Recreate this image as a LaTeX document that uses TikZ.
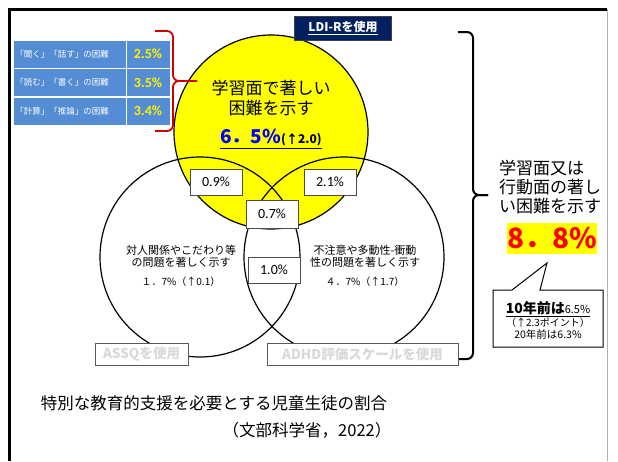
\documentclass[tikz,border=0pt]{standalone}
\usepackage{fontspec}
\setmainfont{Noto Sans CJK JP}
\newfontfamily\latinf{Carlito}
\definecolor{tblue}{RGB}{84,141,212}
\definecolor{navy}{RGB}{0,32,96}
\definecolor{ldyel}{RGB}{255,255,0}
\newcommand{\fs}[1]{\fontsize{#1}{#1}\selectfont}
\begin{document}
\begin{tikzpicture}[x=1pt,y=-1pt,
  pbox/.style={draw=gray!60!black,fill=white,minimum width=52,minimum height=26,inner sep=0,font=\latinf\fs{14}},
  tcell/.style={fill=tblue,draw=white,line width=1,minimum height=28,inner sep=0},
  usebox/.style={draw=gray!70!black,fill=white,minimum height=22,inner sep=0,text=gray!30,font=\bfseries\fs{13.5}}]
\useasboundingbox (0,0) rectangle (618,461);
% frame
\draw[line width=3] (9,461) -- (9,9) -- (607,9);
\draw[gray!60,line width=1] (607,9) -- (607,461);
% three circles
\draw[fill=ldyel,line width=1.2] (271,132) circle[radius=97];
\draw[line width=1.2] (200,257) circle[radius=100];
\draw[line width=1.2] (344,257) circle[radius=100];
% table of LD
\node[tcell,minimum width=113,text width=108,align=left,text=white,font=\fs{8.5}] (t1) at (69.5,54) {「聞く」「話す」の困難};
\node[tcell,minimum width=113,text width=108,align=left,text=white,font=\fs{8.5}] (t2) at (69.5,82.5) {「読む」「書く」の困難};
\node[tcell,minimum width=113,text width=108,align=left,text=white,font=\fs{8.5}] (t3) at (69.5,111) {「計算」「推論」の困難};
\node[tcell,minimum width=44,text=yellow,font=\latinf\bfseries\fs{14}] (v1) at (148,54) {2.5\%};
\node[tcell,minimum width=44,text=yellow,font=\latinf\bfseries\fs{14}] (v2) at (148,82.5) {3.5\%};
\node[tcell,minimum width=44,text=yellow,font=\latinf\bfseries\fs{14}] (v3) at (148,111) {3.4\%};
% red brace
\draw[red!80!black,line width=1.8,rounded corners=6] (155,31) -| (173,81) -- (197,81);
\draw[red!80!black,line width=1.8,rounded corners=6] (197,81) -- (173,81) |- (155,131);
% LDI-R label
\node[fill=navy,draw=gray!50!black,minimum width=97,minimum height=24,inner sep=0,text=white,font=\bfseries\fs{12}] (ldi) at (343,28) {\underline{LDI-Rを使用}};
% LD text
\node[align=center,font=\fs{17},inner sep=0] (ldtxt) at (271,98) {学習面で著しい\\[3pt]困難を示す};
\node[inner sep=0] (ldpct) at (271,139) {\underline{{\color{blue}\bfseries\fs{19}6．5\%}{\bfseries\fs{12}(↑2.0)}}};
% overlap boxes
\node[pbox] (o1) at (216,182) {0.9\%};
\node[pbox] (o2) at (330,182) {2.1\%};
\node[pbox,minimum height=28] (o3) at (272,214) {0.7\%};
\node[pbox] (o4) at (274,270) {1.0\%};
% ASSQ / ADHD texts
\node[align=center,font=\fs{11},inner sep=0] (asd) at (181,256) {対人関係やこだわり等\\[1pt]の問題を著しく示す};
\node[font=\fs{10},inner sep=0] (asdp) at (181,282) {１．7\%（↑0.1）};
\node[align=center,font=\fs{11},inner sep=0] (adhd) at (365,256) {不注意や多動性-衝動\\[1pt]性の問題を著しく示す};
\node[font=\fs{10},inner sep=0] (adhdp) at (365,282) {４．7\%（↑1.7）};
% right brace
\draw[line width=2,rounded corners=6] (458,32) -| (473,195) -- (488,195);
\draw[line width=2,rounded corners=6] (488,195) -- (473,195) |- (458,359);
% tool labels
\node[usebox,minimum width=93] (assq) at (141.5,354) {ASSQを使用};
\node[usebox,minimum width=191] (scale) at (362.5,354) {ADHD評価スケールを使用};
% total
\node[anchor=west,align=left,font=\fs{17},inner sep=0] (tot) at (499,187) {学習面又は\\[2pt]行動面の著し\\[2pt]い困難を示す};
\node[fill=ldyel,text=red,font=\bfseries\fs{28},minimum width=85,minimum height=31,inner sep=0] (totp) at (552,238) {8．8\%};
% callout
\draw[fill=white,line width=1] (493,290) -- (512,290) -- (547,263) -- (540,290) -- (603,290) -- (603,347) -- (493,347) -- cycle;
\node[align=center,inner sep=0] (ago) at (548,320) {\underline{{\bfseries\fs{14}10年前は}{\fs{11}6.5\%}}\\[1pt]{\fs{10}（↑2.3ポイント）}\\{\fs{10.5}20年前は6.3\%}};
% title
\node[font=\fs{16.5},inner sep=0] (title) at (214,403) {特別な教育的支援を必要とする児童生徒の割合};
\node[font=\fs{16.5},inner sep=0] (src) at (307,430) {（文部科学省，2022）};
\end{tikzpicture}
\end{document}
